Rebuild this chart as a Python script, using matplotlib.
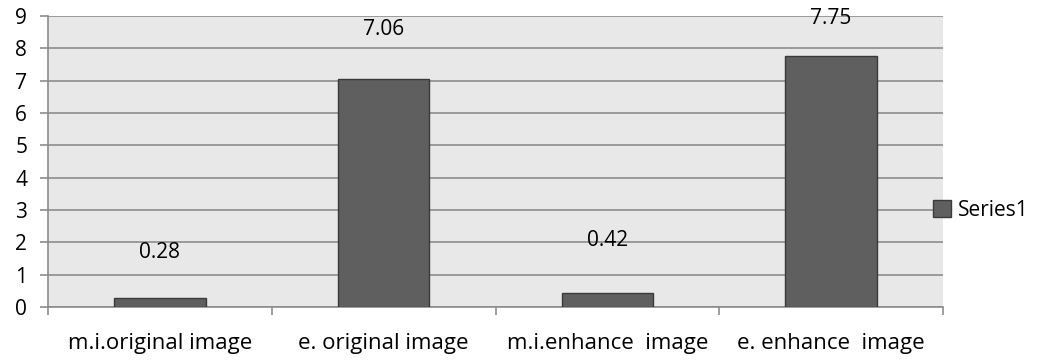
import numpy as np
import matplotlib
matplotlib.use('Agg')
import matplotlib.pyplot as plt

plt.rcParams['font.family'] = ['Open Sans', 'DejaVu Sans']

categories = ['m.i.original image', 'e. original image', 'm.i.enhance  image', 'e. enhance  image']
values = [0.28, 7.06, 0.42, 7.75]
label_offsets = [45, 49, 53, 38]   # pixels above bar top, as in the original
series_name = 'Series1'

fig = plt.figure(figsize=(10.37, 3.6), dpi=100)
ax = fig.add_axes([48/1037, 1 - 307/360, (943-48)/1037, (307-16)/360])

x = np.arange(len(categories))
bars = ax.bar(x, values, width=0.41, color='#5f5f5f', edgecolor='#3a3a3a',
              linewidth=1, label=series_name, zorder=3)

for xi, v, off in zip(x, values, label_offsets):
    ax.annotate('%.2f' % v, (xi, v), xytext=(0, off * 0.72), textcoords='offset points',
                ha='center', va='center', fontsize=15, color='black')

ax.set_facecolor('#e8e8e8')
ax.set_xlim(-0.5, len(categories) - 0.5)
ax.set_ylim(0, 9)
ax.set_yticks(range(10))
ax.yaxis.grid(True, color='#8c8c8c', linewidth=1.2, zorder=1)
ax.set_axisbelow(True)

ax.set_xticks(np.arange(len(categories) + 1) - 0.5)
ax.set_xticklabels([])
ax.set_xticks(x, minor=True)
ax.set_xticklabels(categories, minor=True, fontsize=16)
ax.tick_params(axis='x', which='minor', length=0, pad=19)
ax.tick_params(axis='x', which='major', length=6, color='#8c8c8c', width=1.2)
ax.tick_params(axis='y', length=6, color='#8c8c8c', width=1.2, labelsize=15, pad=9)

for s in ['top', 'right']:
    ax.spines[s].set_visible(False)
ax.spines['left'].set_color('#8c8c8c')
ax.spines['bottom'].set_color('#8c8c8c')
ax.spines['left'].set_linewidth(1.2)
ax.spines['bottom'].set_linewidth(1.2)

ax.legend(loc='center left', bbox_to_anchor=(0.989, 0.333), frameon=False,
          fontsize=15, handlelength=0.85, handleheight=0.85, handletextpad=0.35,
          borderaxespad=0, borderpad=0)

fig.savefig('out.png', dpi=100)
